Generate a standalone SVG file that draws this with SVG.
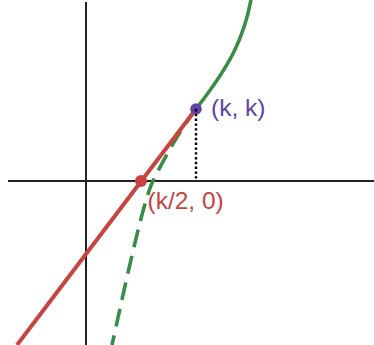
<svg xmlns="http://www.w3.org/2000/svg" width="374" height="345" viewBox="0 0 374 345">
<style>
.axis{stroke:#222;stroke-width:2;fill:none}
.green{stroke:#388c46;stroke-width:3.6;fill:none}
.dash{stroke-dasharray:18 9}
.red{stroke:#c74440;stroke-width:4;fill:none}
.lbl{font-family:"Liberation Sans",Arial,sans-serif;font-size:24.5px}
</style>
<rect width="374" height="345" fill="#fff"/>
<g id="axes">
<line class="axis" x1="8" y1="181" x2="374" y2="181"/>
<line class="axis" x1="86" y1="2" x2="86" y2="345"/>
</g>
<g id="connectors">
<path id="curve-lower" class="green dash" d="M196,109 C179,131 163,161 153,181 C143,201 125.2,285 112,345"/>
<path id="curve-upper" class="green" d="M196,109 C230,65.5 243.5,39 251,0"/>
<line id="tangent" class="red" x1="17" y1="345" x2="196" y2="109"/>
</g>
<g id="point-k2">
<circle cx="141" cy="181" r="6" fill="#c74440"/>
<text class="lbl" x="147.5" y="208.5" fill="#c74440">(k/2, 0)</text>
</g>
<g id="point-kk">
<circle cx="196" cy="109" r="5.8" fill="#6042a6"/>
<text class="lbl" x="211" y="116" fill="#6042a6">(k, k)</text>
</g>
<line id="drop" x1="196" y1="109" x2="196" y2="181" stroke="#000" stroke-width="2.4" stroke-dasharray="2.4 2.4"/>
</svg>
